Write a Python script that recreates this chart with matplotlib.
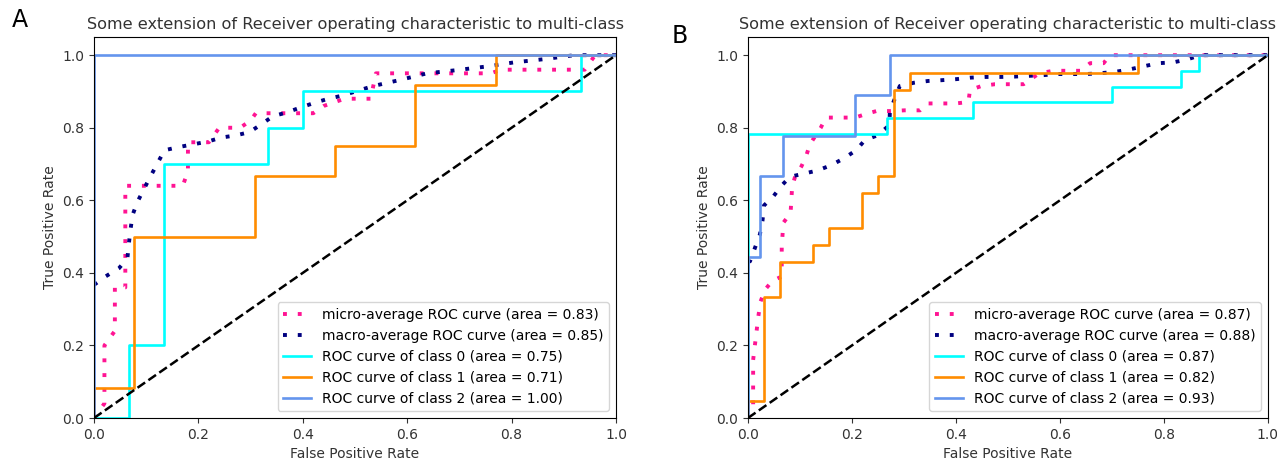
import matplotlib
matplotlib.use('Agg')
import matplotlib.pyplot as plt

plt.rcParams['font.family'] = ['DejaVu Sans']

# ---- panel A ----
a_micro_fpr = [0.00, 0.02, 0.02, 0.04, 0.04, 0.06, 0.06, 0.17, 0.18, 0.18, 0.20, 0.22, 0.24, 0.26,
               0.28, 0.30, 0.31, 0.42, 0.44, 0.48, 0.53, 0.54, 0.76, 0.78, 0.94, 0.96, 1.00]
a_micro_tpr = [0.00, 0.04, 0.20, 0.24, 0.36, 0.36, 0.64, 0.64, 0.68, 0.76, 0.76, 0.76, 0.80, 0.80,
               0.80, 0.82, 0.84, 0.84, 0.86, 0.88, 0.88, 0.95, 0.95, 0.96, 0.96, 1.00, 1.00]
a_macro_fpr = [0, 0.022, 0.048, 0.064, 0.067, 0.07, 0.074, 0.083, 0.096, 0.109, 0.122, 0.135,
               0.163, 0.189, 0.218, 0.244, 0.272, 0.298, 0.32, 0.343, 0.369, 0.394, 0.423, 0.449,
               0.477, 0.503, 0.535, 0.587, 0.638, 0.696, 0.753, 0.804, 0.862, 0.92, 0.984, 1.0]
a_macro_tpr = [0.367, 0.39, 0.413, 0.44, 0.483, 0.52, 0.56, 0.595, 0.632, 0.668, 0.703, 0.738,
               0.747, 0.754, 0.762, 0.773, 0.779, 0.788, 0.809, 0.832, 0.842, 0.855, 0.869, 0.88,
               0.889, 0.901, 0.915, 0.932, 0.95, 0.959, 0.969, 0.98, 0.989, 1.0, 1.0, 1.0]
a_c0_fpr = [0, 0.0667, 0.0667, 0.1333, 0.1333, 0.3333, 0.3333, 0.4, 0.4, 0.9333, 0.9333, 1]
a_c0_tpr = [0, 0, 0.2, 0.2, 0.7, 0.7, 0.8, 0.8, 0.9, 0.9, 1.0, 1.0]
a_c1_fpr = [0, 0, 0.0769, 0.0769, 0.3077, 0.3077, 0.4615, 0.4615, 0.6154, 0.6154, 0.7692, 0.7692, 1]
a_c1_tpr = [0, 0.0833, 0.0833, 0.5, 0.5, 0.6667, 0.6667, 0.75, 0.75, 0.9167, 0.9167, 1.0, 1.0]
a_c2_fpr = [0, 0, 1]
a_c2_tpr = [0, 1, 1]
a_auc = [0.83, 0.85, 0.75, 0.71, 1.00]

# ---- panel B ----
b_micro_fpr = [0, 0.01, 0.01, 0.02, 0.024, 0.033, 0.047, 0.065, 0.065, 0.068, 0.082, 0.085, 0.09,
               0.103, 0.112, 0.119, 0.14, 0.15, 0.206, 0.225, 0.247, 0.273, 0.301, 0.331, 0.345,
               0.40, 0.424, 0.427, 0.449, 0.475, 0.53, 0.56, 0.587, 0.64, 0.658, 0.684, 0.696, 1.0]
b_micro_tpr = [0, 0.036, 0.16, 0.28, 0.32, 0.354, 0.378, 0.39, 0.47, 0.538, 0.565, 0.637, 0.662,
               0.694, 0.722, 0.754, 0.80, 0.828, 0.828, 0.837, 0.846, 0.846, 0.848, 0.848, 0.867,
               0.867, 0.871, 0.904, 0.915, 0.92, 0.92, 0.95, 0.957, 0.957, 0.978, 0.978, 1.0, 1.0]
b_macro_fpr = [0, 0.004, 0.013, 0.023, 0.028, 0.031, 0.049, 0.065, 0.081, 0.106, 0.133, 0.159,
               0.185, 0.208, 0.225, 0.249, 0.272, 0.273, 0.292, 0.319, 0.347, 0.372, 0.401, 0.427,
               0.456, 0.485, 0.513, 0.539, 0.568, 0.597, 0.65, 0.675, 0.706, 0.731, 0.76, 0.789,
               0.817, 0.844, 0.87, 1.0]
b_macro_tpr = [0.43, 0.432, 0.467, 0.506, 0.544, 0.586, 0.611, 0.641, 0.665, 0.673, 0.682, 0.696,
               0.716, 0.738, 0.766, 0.779, 0.807, 0.846, 0.915, 0.924, 0.929, 0.931, 0.934, 0.938,
               0.94, 0.94, 0.941, 0.943, 0.945, 0.948, 0.948, 0.95, 0.954, 0.96, 0.969, 0.978,
               0.98, 0.988, 1.0, 1.0]
b_c0_fpr = [0, 0, 0.267, 0.267, 0.433, 0.433, 0.7, 0.7, 0.833, 0.833, 0.867, 0.867, 1]
b_c0_tpr = [0, 0.783, 0.783, 0.826, 0.826, 0.870, 0.870, 0.913, 0.913, 0.957, 0.957, 1, 1]
b_c1_fpr = [0, 0, 0.031, 0.031, 0.0625, 0.0625, 0.125, 0.125, 0.156, 0.156, 0.219, 0.219, 0.25,
            0.25, 0.281, 0.281, 0.3125, 0.3125, 0.75, 0.75, 1]
b_c1_tpr = [0, 0.048, 0.048, 0.333, 0.333, 0.429, 0.429, 0.476, 0.476, 0.524, 0.524, 0.619, 0.619,
            0.667, 0.667, 0.905, 0.905, 0.952, 0.952, 1, 1]
b_c2_fpr = [0, 0, 0.023, 0.023, 0.068, 0.068, 0.205, 0.205, 0.273, 0.273, 1]
b_c2_tpr = [0, 0.444, 0.444, 0.667, 0.667, 0.778, 0.778, 0.889, 0.889, 1, 1]
b_auc = [0.87, 0.88, 0.87, 0.82, 0.93]

class_colors = ['aqua', 'darkorange', 'cornflowerblue']
dot = (0, (1, 2.8))


def roc_panel(ax, micro, macro, classes, auc):
    ax.plot(micro[0], micro[1], color='deeppink', ls=dot, lw=2.8,
            label='micro-average ROC curve (area = {0:0.2f})'.format(auc[0]))
    ax.plot(macro[0], macro[1], color='navy', ls=dot, lw=2.8,
            label='macro-average ROC curve (area = {0:0.2f})'.format(auc[1]))
    for i, (f, t) in enumerate(classes):
        ax.plot(f, t, color=class_colors[i], lw=1.9,
                label='ROC curve of class {0} (area = {1:0.2f})'.format(i, auc[i + 2]))
    ax.plot([0, 1], [0, 1], 'k--', lw=1.8)
    ax.set_xlim([0.0, 1.0])
    ax.set_ylim([0.0, 1.05])
    ax.set_xlabel('False Positive Rate', fontsize=10, color='#333333')
    ax.set_ylabel('True Positive Rate', fontsize=10, color='#333333')
    ax.set_title('Some extension of Receiver operating characteristic to multi-class',
                 fontsize=11.6, color='#333333')
    ax.tick_params(labelsize=10, colors='#333333')
    ax.legend(loc='lower right', fontsize=10)


fig = plt.figure(figsize=(12.77, 4.59), dpi=100)
axA = fig.add_axes([0.0736, 0.0893, 0.4088, 0.830])
axB = fig.add_axes([0.5857, 0.0893, 0.4072, 0.830])

roc_panel(axA, (a_micro_fpr, a_micro_tpr), (a_macro_fpr, a_macro_tpr),
          [(a_c0_fpr, a_c0_tpr), (a_c1_fpr, a_c1_tpr), (a_c2_fpr, a_c2_tpr)], a_auc)
roc_panel(axB, (b_micro_fpr, b_micro_tpr), (b_macro_fpr, b_macro_tpr),
          [(b_c0_fpr, b_c0_tpr), (b_c1_fpr, b_c1_tpr), (b_c2_fpr, b_c2_tpr)], b_auc)

fig.text(20 / 1277, 1 - 20 / 459, 'A', fontsize=17, ha='center', va='center')
fig.text(680 / 1277, 1 - 36 / 459, 'B', fontsize=17, ha='center', va='center')

fig.savefig('out.png', dpi=100)
